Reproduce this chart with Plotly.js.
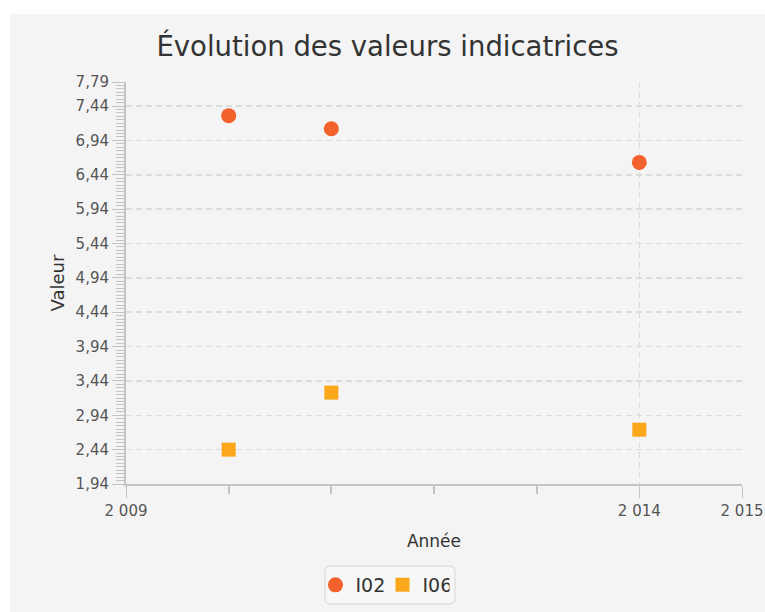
<!DOCTYPE html>
<html>
<head>
<meta charset="utf-8">
<script src="https://cdn.plot.ly/plotly-3.0.1.min.js"></script>
<style>
html,body{margin:0;padding:0;background:#ffffff;width:765px;height:612px;overflow:hidden;}
#chart{position:absolute;left:10px;top:14px;width:755px;height:598px;}
</style>
</head>
<body>
<div id="chart"></div>
<script>
const years = [2010, 2011, 2014];
const valuesI02 = [7.30, 7.11, 6.62];
const valuesI06 = [2.44, 3.27, 2.73];
const seriesNames = ["I02", "I06"];
const yTickVals = [1.94, 2.44, 2.94, 3.44, 3.94, 4.44, 4.94, 5.44, 5.94, 6.44, 6.94, 7.44, 7.79];
const yTickText = yTickVals.map(v => v.toFixed(2).replace('.', ','));
const xTickVals = [2009, 2014, 2015];
const xTickText = ["2 009", "2 014", "2 015"];
const xMinorVals = [2010, 2011, 2012, 2013];

const font = "DejaVu Sans, sans-serif";
const bg = "#f4f4f4";
const gridColor = "#dcdcdc";
const axisColor = "#c4c4c4";
const textColor = "#555555";

// plot area geometry (div pixels) for the legend frame
const W = 755, H = 598, ML = 116, MR = 23, MT = 68, MB = 128;
const PW = W - ML - MR, PH = H - MT - MB;
const px = x => (x - ML) / PW;
const py = y => (H - MB - y) / PH;
function roundRect(x0, y0, x1, y1, r) {
  const a = px(x0), b = px(x1), t = py(y0), bt = py(y1);
  const rx = r / PW, ry = r / PH;
  return `M${a+rx},${t} L${b-rx},${t} Q${b},${t} ${b},${t-ry} L${b},${bt+ry} Q${b},${bt} ${b-rx},${bt} ` +
         `L${a+rx},${bt} Q${a},${bt} ${a},${bt+ry} L${a},${t-ry} Q${a},${t} ${a+rx},${t} Z`;
}

const traces = [
  {x: years, y: valuesI02, name: seriesNames[0], type: "scatter", mode: "markers",
   marker: {symbol: "circle", size: 15, color: "#f3622d"}},
  {x: years, y: valuesI06, name: seriesNames[1], type: "scatter", mode: "markers",
   marker: {symbol: "square", size: 14, color: "#fba71b"}}
];

const layout = {
  width: W, height: H,
  paper_bgcolor: bg, plot_bgcolor: bg,
  margin: {l: ML, r: MR, t: MT, b: MB},
  font: {family: font, color: textColor, size: 15},
  title: {text: "Évolution des valeurs indicatrices", x: 0.5, xref: "container", xanchor: "center",
          y: 1 - 23/598, yref: "container", yanchor: "top",
          font: {family: font, size: 27.5, color: "#333333"}},
  showlegend: true,
  legend: {orientation: "h", x: 0.5 - 5/W, xref: "container", xanchor: "center",
           y: 1 - 552/598, yref: "container", yanchor: "top",
           bgcolor: "rgba(0,0,0,0)", borderwidth: 0,
           font: {family: font, size: 19, color: "#333333"}, itemwidth: 30,
           entrywidth: 22, entrywidthmode: "pixels"},
  shapes: [
    {type: "path", xref: "paper", yref: "paper", layer: "below",
     path: roundRect(315, 552, 445, 590, 6),
     fillcolor: "#f7f7f7", line: {color: "#e1e1e1", width: 1.5}}
  ],
  xaxis: {
    range: [2009, 2015], tickmode: "array", tickvals: xTickVals, ticktext: xTickText,
    showline: true, linecolor: axisColor, linewidth: 2,
    ticks: "outside", ticklen: 12, tickcolor: axisColor, tickwidth: 1,
    showgrid: true, gridcolor: gridColor, griddash: "6px,4px", gridwidth: 1.5,
    zeroline: false,
    tickfont: {family: font, size: 15, color: textColor},
    minor: {tickmode: "array", tickvals: xMinorVals, ticks: "outside", ticklen: 8,
            tickcolor: axisColor, tickwidth: 2, showgrid: false},
    title: {text: "Année", standoff: 16, font: {family: font, size: 17, color: "#333333"}}
  },
  yaxis: {
    range: [1.94, 7.79], tickmode: "array", tickvals: yTickVals, ticktext: yTickText,
    showline: true, linecolor: axisColor, linewidth: 2,
    ticks: "outside", ticklen: 12, tickcolor: axisColor, tickwidth: 1,
    showgrid: true, gridcolor: gridColor, griddash: "6px,4px", gridwidth: 1.5,
    zeroline: false,
    tickfont: {family: font, size: 15, color: textColor},
    minor: {tick0: 1.94, dtick: 0.05, ticks: "outside", ticklen: 8,
            tickcolor: axisColor, tickwidth: 1, showgrid: false},
    title: {text: "Valeur", standoff: 6, font: {family: font, size: 18, color: "#333333"}}
  }
};

Plotly.newPlot("chart", traces, layout, {displayModeBar: false, staticPlot: true});
</script>
</body>
</html>
